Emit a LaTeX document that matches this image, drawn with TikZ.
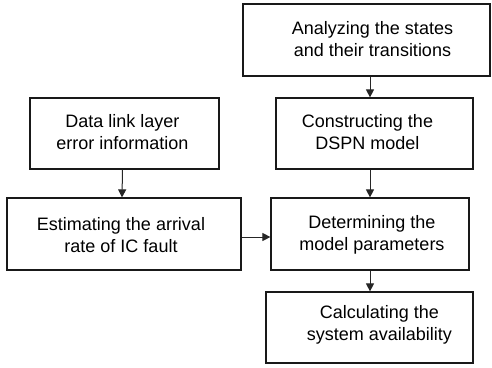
\documentclass[tikz,border=0pt]{standalone}
\usepackage{fontspec}
\setmainfont{Liberation Sans}
\usetikzlibrary{arrows.meta}
\begin{document}
\begin{tikzpicture}[x=1pt,y=-1pt,
  stepbox/.style={draw=black!90,line width=1.2pt,rectangle,inner sep=0pt},
  steptext/.style={align=center,font=\fontsize{18}{22}\selectfont,inner sep=0pt},
  flow/.style={line width=1pt,draw=black!85,-{Triangle[length=8pt,width=8pt]}}]
  \useasboundingbox (0,0) rectangle (492,367);
  % boxes
  \node[stepbox,minimum width=247pt,minimum height=72pt] (ana) at (366.5,40) {};
  \node[stepbox,minimum width=197pt,minimum height=71pt] (dspn) at (374.5,133.5) {};
  \node[stepbox,minimum width=189pt,minimum height=71pt] (dll) at (124.5,133.5) {};
  \node[stepbox,minimum width=234pt,minimum height=72pt] (est) at (124,234) {};
  \node[stepbox,minimum width=198pt,minimum height=72pt] (det) at (370,234) {};
  \node[stepbox,minimum width=207pt,minimum height=71pt] (cal) at (369.5,327.5) {};
  % labels
  \node[steptext] (tana) at ([xshift=6pt,yshift=1pt]ana.center) {Analyzing the states\\and their transitions};
  \node[steptext] (tdspn) at ([xshift=-7pt,yshift=1pt]dspn.center) {Constructing the\\DSPN model};
  \node[steptext] (tdll) at ([xshift=-2pt,yshift=1pt]dll.center) {Data link layer\\error information};
  \node[steptext] (test) at ([xshift=-3pt,yshift=-1pt]est.center) {Estimating the arrival\\rate of IC fault};
  \node[steptext] (tdet) at ([xshift=2pt,yshift=-1pt]det.center) {Determining the\\model parameters};
  \node[steptext] (tcal) at ([xshift=10pt,yshift=3pt]cal.center) {Calculating the\\system availability};
  % connectors
  \draw[flow] (ana.south -| det.center) -- (dspn.north -| det.center);
  \draw[flow] (dspn.south -| det.center) -- (det.north);
  \draw[flow] ([xshift=-2pt]dll.south) -- ([xshift=-2pt]est.north);
  \draw[flow] ([yshift=-3pt]est.east) -- ([yshift=-3pt]est.east -| det.west);
  \draw[flow] (det.south) -- (cal.north -| det.center);
\end{tikzpicture}
\end{document}
